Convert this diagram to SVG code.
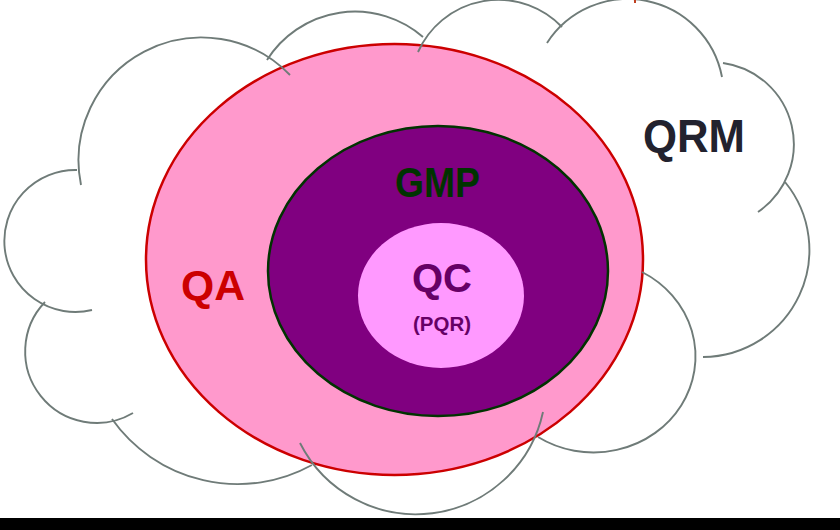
<svg xmlns="http://www.w3.org/2000/svg" width="840" height="530" viewBox="0 0 840 530">
  <style>
    .cloud { fill: none; stroke: #6F7B78; stroke-width: 1.9; stroke-linecap: butt; }
    .lbl { font-family: "Liberation Sans", "DejaVu Sans", sans-serif; text-anchor: middle; font-weight: bold; }
  </style>
  <rect x="0" y="0" width="840" height="530" fill="#FFFFFF"/>

  <g id="qa">
    <ellipse cx="394.5" cy="259.5" rx="248.5" ry="215.5" fill="#FF99CC" stroke="#CC0000" stroke-width="2.5"/>
  </g>
  <g id="gmp">
    <ellipse cx="438" cy="271" rx="170" ry="145" fill="#800080" stroke="#003300" stroke-width="2.5"/>
  </g>
  <g id="qc">
    <ellipse cx="441" cy="295.5" rx="83" ry="72.5" fill="#FF99FF"/>
  </g>

  <g id="qrm-cloud">
    <path class="cloud" d="M81,185 A123,123 0 0 1 290,75"/>
    <path class="cloud" d="M267,60 A104,104 0 0 1 423,37"/>
    <path class="cloud" d="M418,52 A88,88 0 0 1 562,27"/>
    <path class="cloud" d="M547,43 A96,96 0 0 1 722,77"/>
    <path class="cloud" d="M723,63 A82,82 0 0 1 758,212"/>
    <path class="cloud" d="M785,182 A107,107 0 0 1 703,357"/>
    <path class="cloud" d="M642,272 A102,96 0 1 1 538,437"/>
    <path class="cloud" d="M543,412 A130,130 0 0 1 300,443"/>
    <path class="cloud" d="M312,465 A154,154 0 0 1 112,419"/>
    <path class="cloud" d="M45,302 A71.5,71.5 0 0 0 133,413"/>
    <path class="cloud" d="M77,170 A71,71 0 1 0 92,310"/>
    <rect x="634" y="0" width="2" height="3" fill="#C04020"/>
  </g>

  <g id="labels">
    <text class="lbl" x="694" y="152" font-size="47" fill="#22222E" textLength="102" lengthAdjust="spacingAndGlyphs">QRM</text>
    <text class="lbl" x="437.5" y="197" font-size="43" fill="#003300" textLength="85" lengthAdjust="spacingAndGlyphs">GMP</text>
    <text class="lbl" x="213" y="300" font-size="43" fill="#CC0000" textLength="64" lengthAdjust="spacingAndGlyphs">QA</text>
    <text class="lbl" x="442" y="292" font-size="41" fill="#660066" textLength="60" lengthAdjust="spacingAndGlyphs">QC</text>
    <text class="lbl" x="442" y="331" font-size="20" fill="#660066" textLength="58" lengthAdjust="spacingAndGlyphs">(PQR)</text>
  </g>

  <rect id="bottom-bar" x="0" y="518" width="840" height="12" fill="#000000"/>
</svg>
